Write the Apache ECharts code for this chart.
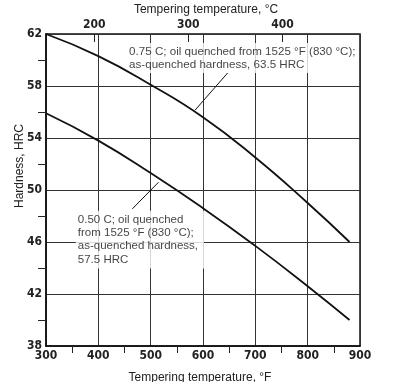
<!DOCTYPE html>
<html>
<head>
<meta charset="utf-8">
<script src="https://cdn.jsdelivr.net/npm/echarts@6/dist/echarts.min.js"></script>
<style>html,body{margin:0;padding:0;background:#fff}#c{width:394px;height:382px}</style>
</head>
<body>
<div id="c"></div>
<script>
// Data (temperature in °F, hardness in HRC)
const tempF = [300, 400, 500, 600, 700, 800, 880];
const hrc075 = [62.0, 60.3, 58.1, 55.6, 52.5, 49.0, 46.0];
const hrc050 = [55.9, 53.8, 51.3, 48.6, 45.7, 42.6, 40.0];
const celsiusTicks = [200, 300, 400];
const leader075 = [[585, 56.15], [647, 59.0]];
const leader050 = [[465, 48.55], [515, 50.6]];
const note075 = ['0.75 C; oil quenched from 1525 °F (830 °C);', 'as-quenched hardness, 63.5 HRC'];
const note050 = ['0.50 C; oil quenched', 'from 1525 °F (830 °C);', 'as-quenched hardness,', '57.5 HRC'];
const note075At = [455, 61.3];
const note050At = [357, 48.4];

const narrow = '"Liberation Sans Narrow", "DejaVu Sans Condensed", sans-serif';
const sans = '"Liberation Sans", Arial, sans-serif';
const toC = f => (f - 32) / 1.8;

const chart = echarts.init(document.getElementById('c'), null, {renderer: 'canvas'});
const pair = (xs, ys) => xs.map((x, i) => [x, ys[i]]);

chart.setOption({
  animation: false,
  backgroundColor: '#fff',
  grid: {left: 46, right: 34, top: 34, bottom: 36, show: true, borderColor: '#111', borderWidth: 1.5, backgroundColor: 'transparent'},
  xAxis: [{
    type: 'value', position: 'bottom', min: 300, max: 900, interval: 100,
    axisLine: {show: true, lineStyle: {color: '#111', width: 1.5}},
    axisTick: {show: false},
    minorTick: {show: true, splitNumber: 2, length: 7, lineStyle: {color: '#222', width: 1}},
    axisLabel: {fontFamily: narrow, fontSize: 12, fontWeight: 'bold', color: '#222', margin: 4},
    splitLine: {show: true, lineStyle: {color: '#333', width: 1}}
  }, {
    type: 'value', position: 'top', min: toC(300), max: toC(900),
    axisLine: {show: false},
    axisTick: {show: true, inside: true, length: 8, customValues: celsiusTicks, lineStyle: {color: '#222', width: 1}},
    axisLabel: {fontFamily: narrow, fontSize: 12, fontWeight: 'bold', color: '#222', margin: 3, customValues: celsiusTicks},
    splitLine: {show: false}
  }],
  yAxis: [{
    type: 'value', min: 38, max: 62, interval: 4,
    axisLine: {show: true, lineStyle: {color: '#111', width: 1.5}},
    axisTick: {show: false},
    minorTick: {show: true, splitNumber: 2, length: 8, lineStyle: {color: '#222', width: 1}},
    axisLabel: {fontFamily: narrow, fontSize: 12, fontWeight: 'bold', color: '#222', margin: 4},
    splitLine: {show: true, lineStyle: {color: '#333', width: 1}}
  }],
  graphic: [
    {type: 'text', x: 206, y: 4, style: {text: 'Tempering temperature, °C', font: '12px ' + sans, fill: '#222', align: 'center', verticalAlign: 'top'}},
    {type: 'text', x: 20, y: 166, rotation: Math.PI / 2, style: {text: 'Hardness, HRC', font: '12px ' + sans, fill: '#222', align: 'center', verticalAlign: 'middle'}},
    {type: 'text', x: 200, y: 372, style: {text: 'Tempering temperature, °F', font: '12px ' + sans, fill: '#222', align: 'center', verticalAlign: 'top'}}
  ],
  series: [
    {type: 'line', data: pair(tempF, hrc075), smooth: 0.5, symbol: 'none', lineStyle: {color: '#111', width: 1.8}, z: 3},
    {type: 'line', data: pair(tempF, hrc050), smooth: 0.5, symbol: 'none', lineStyle: {color: '#111', width: 1.8}, z: 3},
    {type: 'line', data: leader075, symbol: 'none', lineStyle: {color: '#111', width: 1}, z: 3},
    {type: 'line', data: leader050, symbol: 'none', lineStyle: {color: '#111', width: 1}, z: 3},
    {type: 'scatter', data: [note075At], symbolSize: 0, z: 2, silent: true,
      label: {show: true, position: [0, 0], align: 'left', verticalAlign: 'top', formatter: note075.join('\n'),
        fontFamily: sans, fontSize: 11.6, lineHeight: 13, color: '#111', backgroundColor: '#fff', padding: [2, 0, 2, 2]}},
    {type: 'scatter', data: [note050At], symbolSize: 0, z: 2, silent: true,
      label: {show: true, position: [0, 0], align: 'left', verticalAlign: 'top', formatter: note050.join('\n'),
        fontFamily: sans, fontSize: 11.5, lineHeight: 13.4, color: '#111', backgroundColor: '#fff', padding: [2, 6, 2, 2]}}
  ]
});
</script>
</body>
</html>
